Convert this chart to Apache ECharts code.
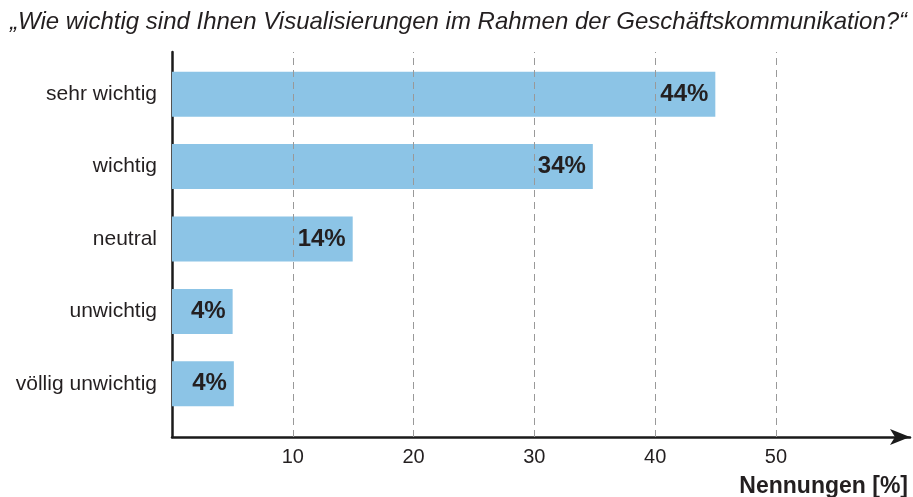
<!DOCTYPE html>
<html>
<head>
<meta charset="utf-8">
<script src="https://cdn.jsdelivr.net/npm/echarts@6/dist/echarts.min.js"></script>
<style>
  html, body { margin: 0; padding: 0; background: #fff; }
  #chart { width: 913px; height: 497px; }
</style>
</head>
<body>
<div id="chart"></div>
<script>
// answer categories, top to bottom
const categories = ['sehr wichtig', 'wichtig', 'neutral', 'unwichtig', 'völlig unwichtig']
// bar lengths as drawn (percent)
const barValues = [44.8, 34.7, 14.9, 5, 5.1]
// printed value labels
const valueLabels = ['44%', '34%', '14%', '4%', '4%']
// x axis ticks / dashed grid lines
const tickValues = [10, 20, 30, 40, 50]

const FONT = '"Liberation Sans", Arial, sans-serif'
const X_MAX = 61.1

const chart = echarts.init(document.getElementById('chart'), null, { renderer: 'canvas' })

const option = {
    backgroundColor: '#fff',
    animation: false,
    textStyle: { fontFamily: FONT },
    title: [
        {
            text: '\u201EWie wichtig sind Ihnen Visualisierungen im Rahmen der Gesch\u00E4ftskommunikation?\u201C',
            left: 5,
            top: 5,
            textStyle: { fontFamily: FONT, fontSize: 24, fontStyle: 'italic', fontWeight: 'normal', color: '#231f20' },
        },
        {
            text: 'Nennungen [%]',
            right: 0,
            top: 470,
            textStyle: { fontFamily: FONT, fontSize: 23, fontWeight: 'bold', color: '#231f20' },
        },
    ],
    grid: [
        // bars
        { left: 172, right: 0, top: 58, height: 362 },
        // axes frame
        { left: 172, right: 0, top: 52, height: 385 },
    ],
    xAxis: [
        { gridIndex: 0, type: 'value', min: 0, max: X_MAX, show: false },
        {
            gridIndex: 1,
            type: 'value',
            min: 0,
            max: X_MAX,
            interval: 10,
            axisLine: {
                show: true,
                symbol: ['none', 'arrow'],
                symbolSize: [12, 20],
                lineStyle: { color: '#1a1a1a', width: 2.5 },
            },
            axisTick: { show: false },
            splitLine: { show: false },
            axisLabel: {
                margin: 10,
                fontSize: 20,
                color: '#231f20',
                fontFamily: FONT,
                formatter: (v) => (tickValues.includes(v) ? String(v) : ''),
            },
        },
    ],
    yAxis: [
        {
            gridIndex: 0,
            type: 'category',
            data: categories,
            inverse: true,
            axisLine: { show: false },
            axisTick: { show: false },
            axisLabel: { margin: 15, fontSize: 21, color: '#231f20', fontFamily: FONT },
        },
        {
            gridIndex: 1,
            type: 'value',
            min: 0,
            max: 1,
            axisLine: { show: true, lineStyle: { color: '#1a1a1a', width: 2.5 } },
            axisTick: { show: false },
            axisLabel: { show: false },
            splitLine: { show: false },
        },
    ],
    series: [
        {
            type: 'bar',
            xAxisIndex: 0,
            yAxisIndex: 0,
            data: barValues,
            barWidth: 45,
            z: 3,
            itemStyle: { color: '#8cc4e6' },
            label: {
                show: true,
                position: 'insideRight',
                distance: 7,
                fontSize: 24,
                fontWeight: 'bold',
                color: '#231f20',
                fontFamily: FONT,
                formatter: (p) => valueLabels[p.dataIndex],
            },
        },
        {
            // dashed grid lines
            type: 'line',
            xAxisIndex: 1,
            yAxisIndex: 1,
            data: [],
            z: 1,
            markLine: {
                silent: true,
                symbol: ['none', 'none'],
                label: { show: false },
                lineStyle: { type: [7, 5], color: '#999', width: 1 },
                data: tickValues.map((v) => ({ xAxis: v })),
            },
        },
    ],
}

chart.setOption(option)
</script>
</body>
</html>
